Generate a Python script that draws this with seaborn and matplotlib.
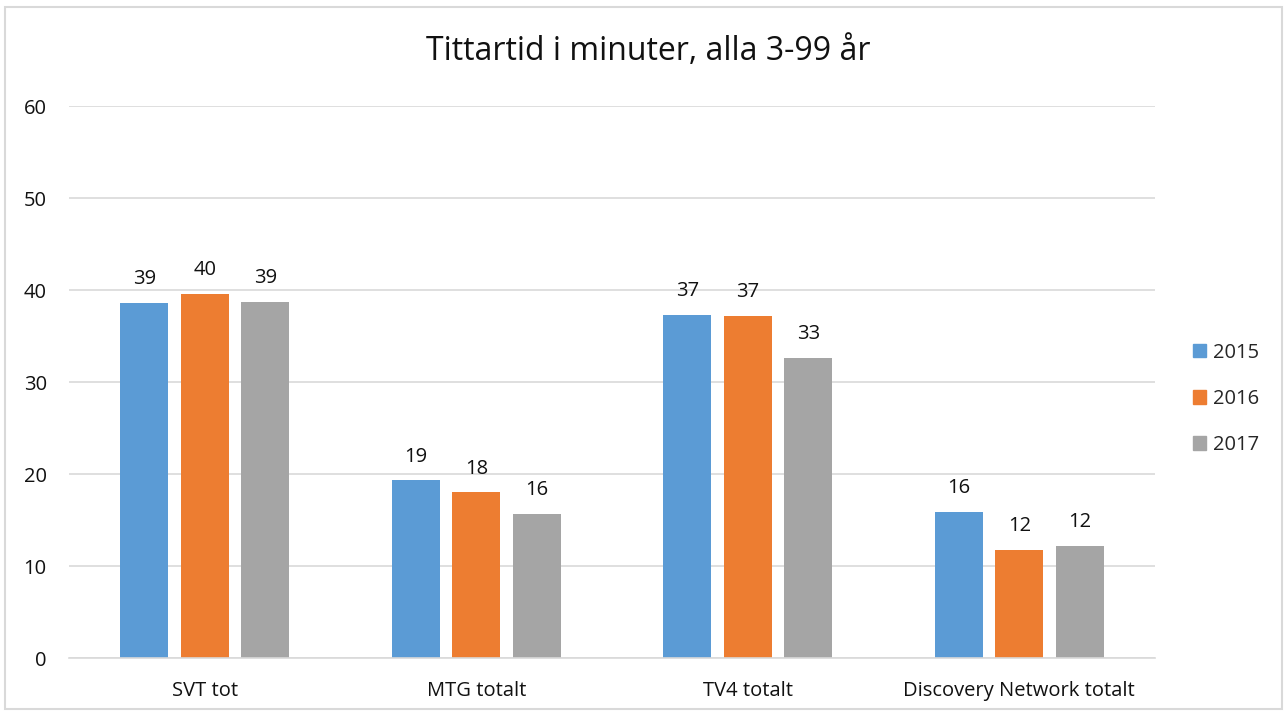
import matplotlib
matplotlib.use("Agg")
import matplotlib.pyplot as plt
import matplotlib.patches as mpatches
import seaborn as sns
import pandas as pd

categories = ["SVT tot", "MTG totalt", "TV4 totalt", "Discovery Network totalt"]
years = ["2015", "2016", "2017"]
values_2015 = [38.6, 19.3, 37.3, 15.9]
values_2016 = [39.6, 18.0, 37.2, 11.7]
values_2017 = [38.7, 15.7, 32.6, 12.2]
colors = ["#5B9BD5", "#ED7D31", "#A5A5A5"]

rows = []
for yr, vals in zip(years, [values_2015, values_2016, values_2017]):
    for c, v in zip(categories, vals):
        rows.append({"Kanal": c, "År": yr, "Minuter": v})
df = pd.DataFrame(rows)

sns.set_theme(style="white")
plt.rcParams["font.family"] = ["Open Sans", "DejaVu Sans"]

FS = 14.5
fig = plt.figure(figsize=(12.88, 7.16), dpi=100)
ax = fig.add_axes([69/1288, 58/716, (1155-69)/1288, (658-106)/716])

sns.barplot(data=df, x="Kanal", y="Minuter", hue="År", palette=colors,
            order=categories, hue_order=years, width=0.668, gap=0.2,
            ax=ax, legend=False, saturation=1, linewidth=0)

for cont in ax.containers:
    ax.bar_label(cont, labels=[f"{int(b.get_height() + 0.5):d}" for b in cont],
                 padding=10, fontsize=FS, color="#111111")

ax.set_ylim(0, 60)
ax.set_xlim(-0.5, 3.5)
ax.set_yticks(range(0, 61, 10))
ax.yaxis.grid(True, color="#d9d9d9", linewidth=1.2)
ax.set_axisbelow(True)
for s in ["top", "right", "left"]:
    ax.spines[s].set_visible(False)
ax.spines["bottom"].set_color("#d9d9d9")
ax.spines["bottom"].set_linewidth(1.2)
ax.tick_params(axis="both", length=0, labelsize=FS, colors="#111111")
ax.tick_params(axis="y", pad=16)
ax.tick_params(axis="x", pad=16.5)
ax.set_xlabel("")
ax.set_ylabel("")

fig.text(0.503, 0.928, "Tittartid i minuter, alla 3-99 år", ha="center", va="center",
         fontsize=23, color="#111111")

handles = [mpatches.Patch(color=c, label=y) for c, y in zip(colors, years)]
fig.legend(handles=handles, loc="center left", bbox_to_anchor=(1193/1288, 1 - 399/716),
           frameon=False, fontsize=FS, handlelength=0.65, handleheight=0.65,
           handletextpad=0.35, labelspacing=1.3, borderaxespad=0, borderpad=0)

fig.patches.append(mpatches.Rectangle((5/1288, 7/716), 1277/1288, 702/716,
                                      transform=fig.transFigure, fill=False,
                                      edgecolor="#d9d9d9", linewidth=1.5))

fig.savefig("out.png", dpi=100, facecolor="white")
